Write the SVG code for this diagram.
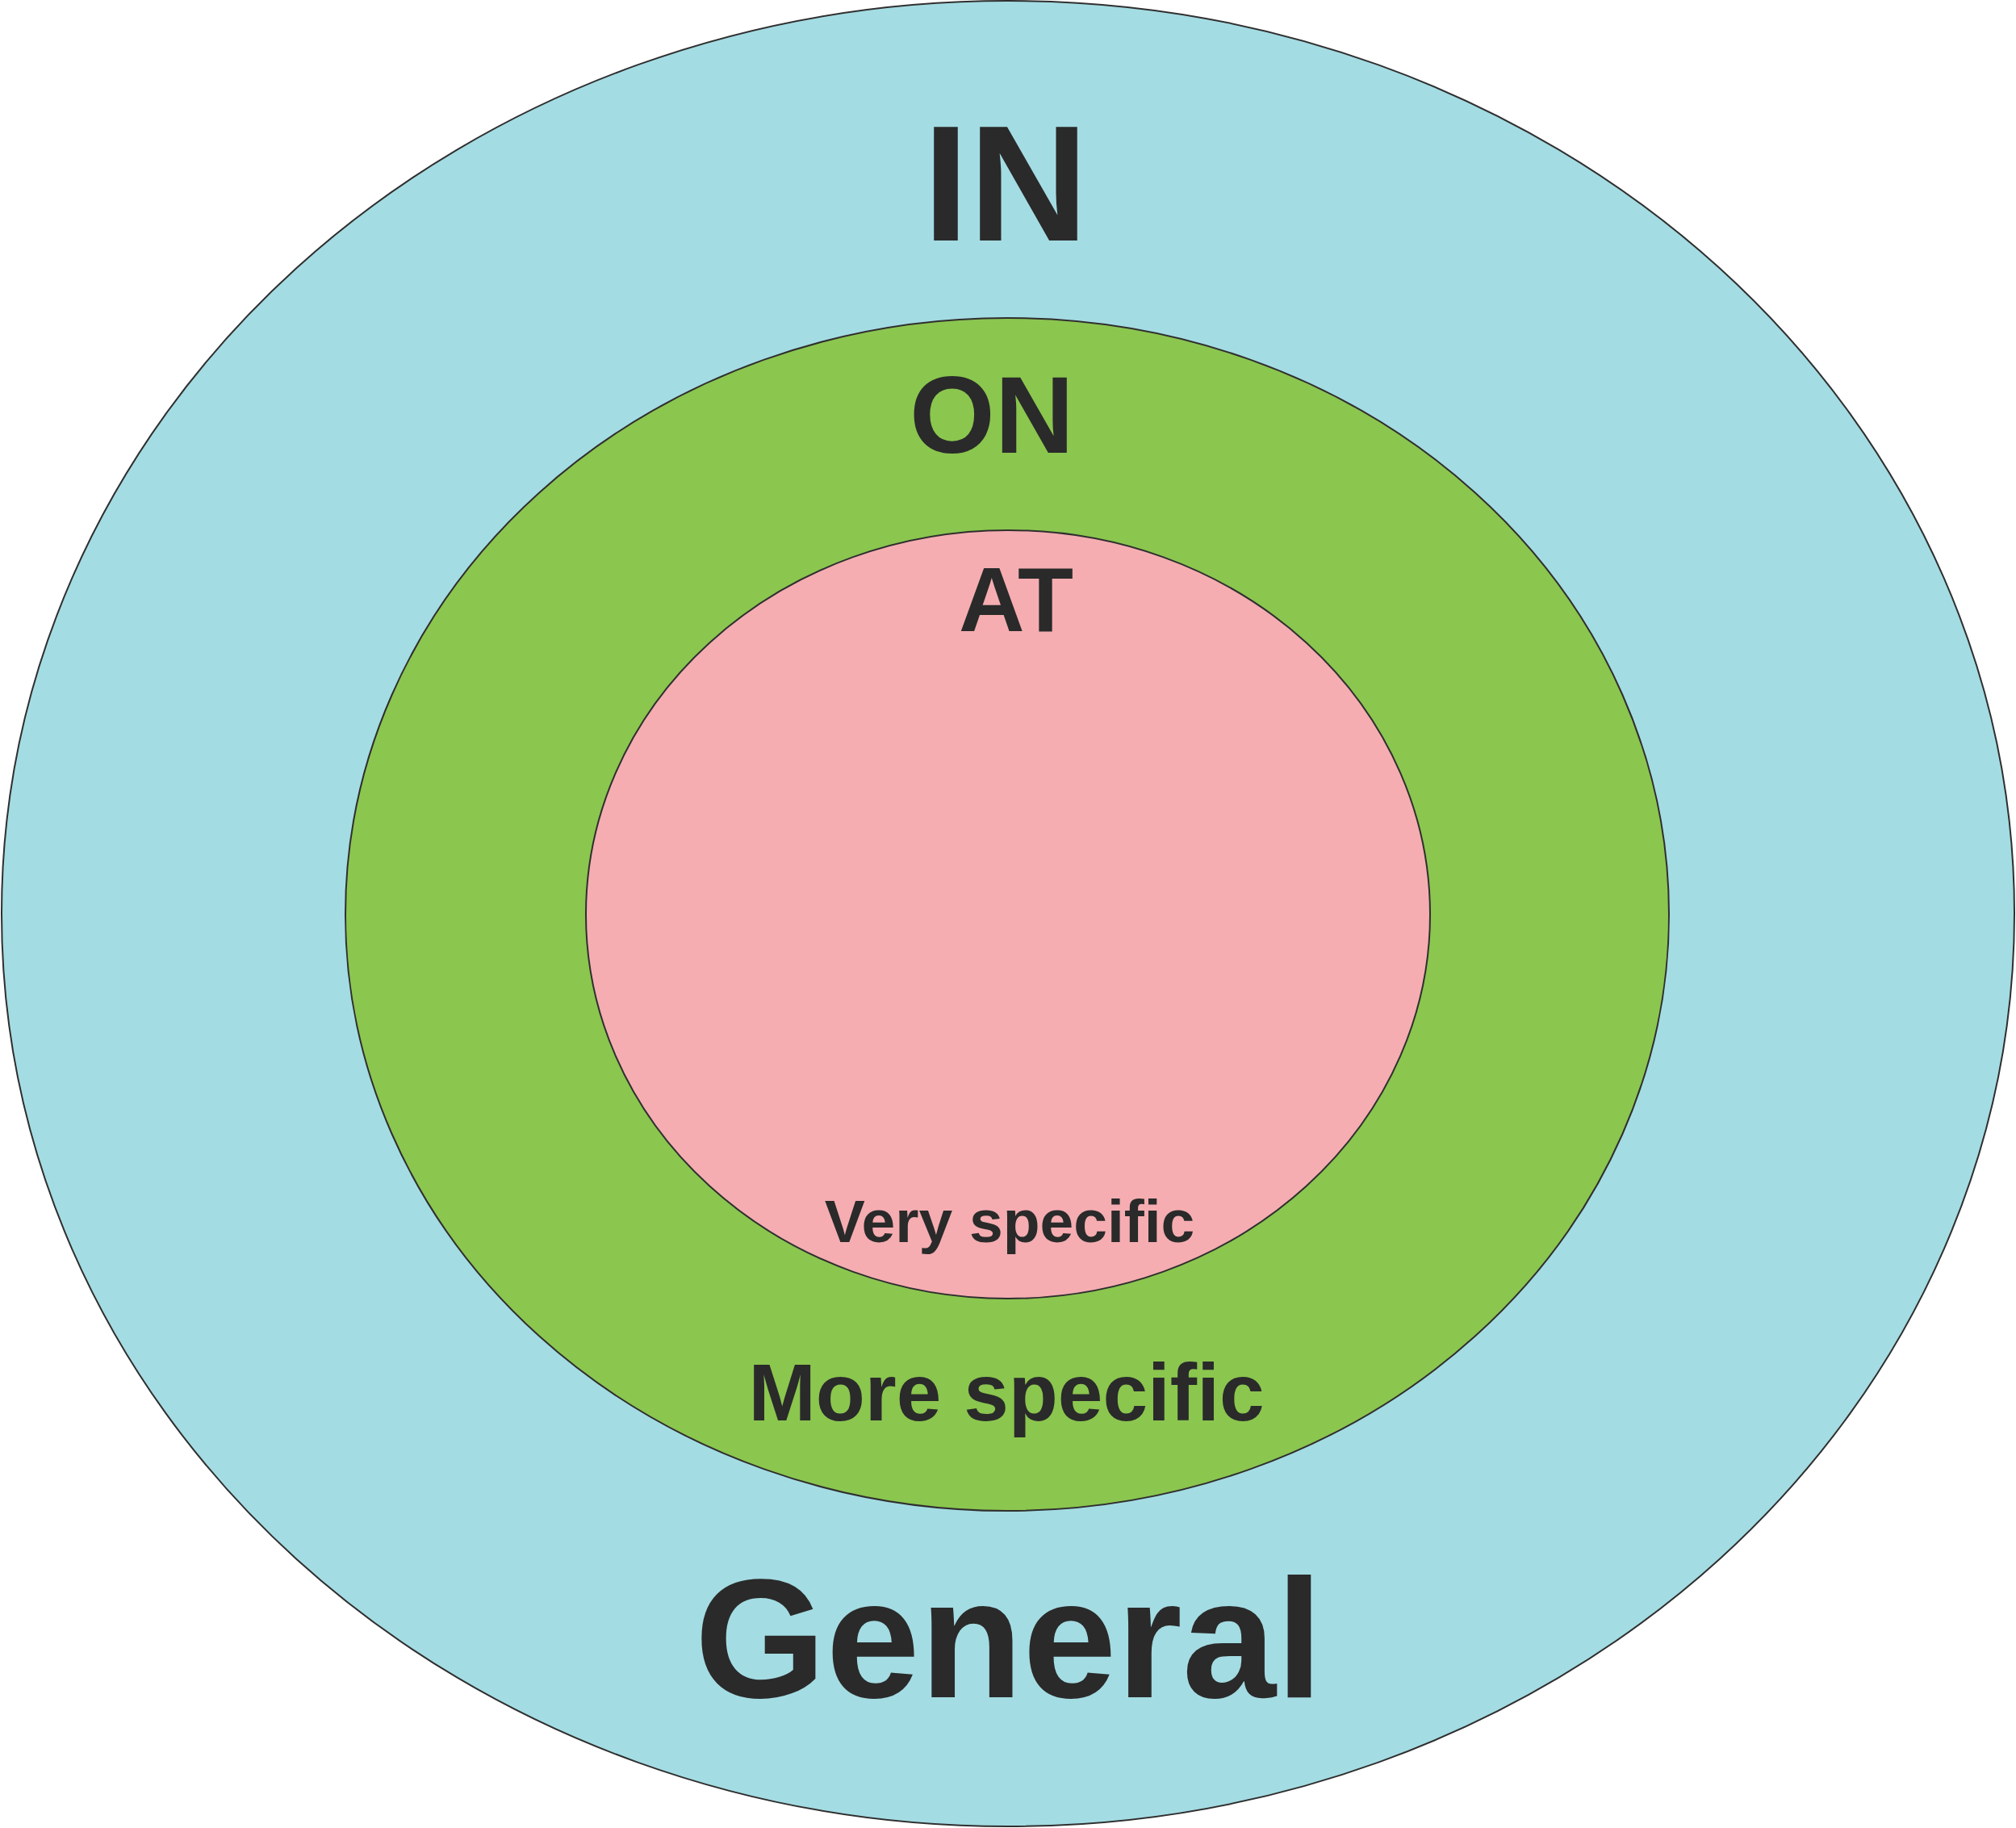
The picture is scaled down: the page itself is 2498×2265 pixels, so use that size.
<svg xmlns="http://www.w3.org/2000/svg" width="2498" height="2265" viewBox="0 0 2498 2265">
<style>
.ring{stroke:#2f2f2f;stroke-width:2}
.t{font-family:"Liberation Sans",Arial,sans-serif;font-weight:bold;fill:#2a2a2a;text-anchor:middle}
</style>
<rect width="2498" height="2265" fill="#ffffff"/>
<g id="in">
<ellipse class="ring" cx="1249" cy="1132" rx="1247" ry="1131" fill="#a4dce3"/>
</g>
<g id="on">
<ellipse class="ring" cx="1248" cy="1133" rx="820" ry="739" fill="#8bc64f"/>
</g>
<g id="at">
<ellipse class="ring" cx="1249" cy="1133" rx="523" ry="476" fill="#f5adb1"/>
</g>
<g id="labels">
<text class="t" x="1246" y="298" font-size="205">IN</text>
<text class="t" x="1229" y="561" font-size="136">ON</text>
<text class="t" x="1259" y="782" font-size="113">AT</text>
<text class="t" x="1251" y="1539" font-size="75">Very specific</text>
<text class="t" x="1247" y="1760" font-size="100">More specific</text>
<text class="t" x="1250" y="2103" font-size="209">General</text>
</g>
</svg>
